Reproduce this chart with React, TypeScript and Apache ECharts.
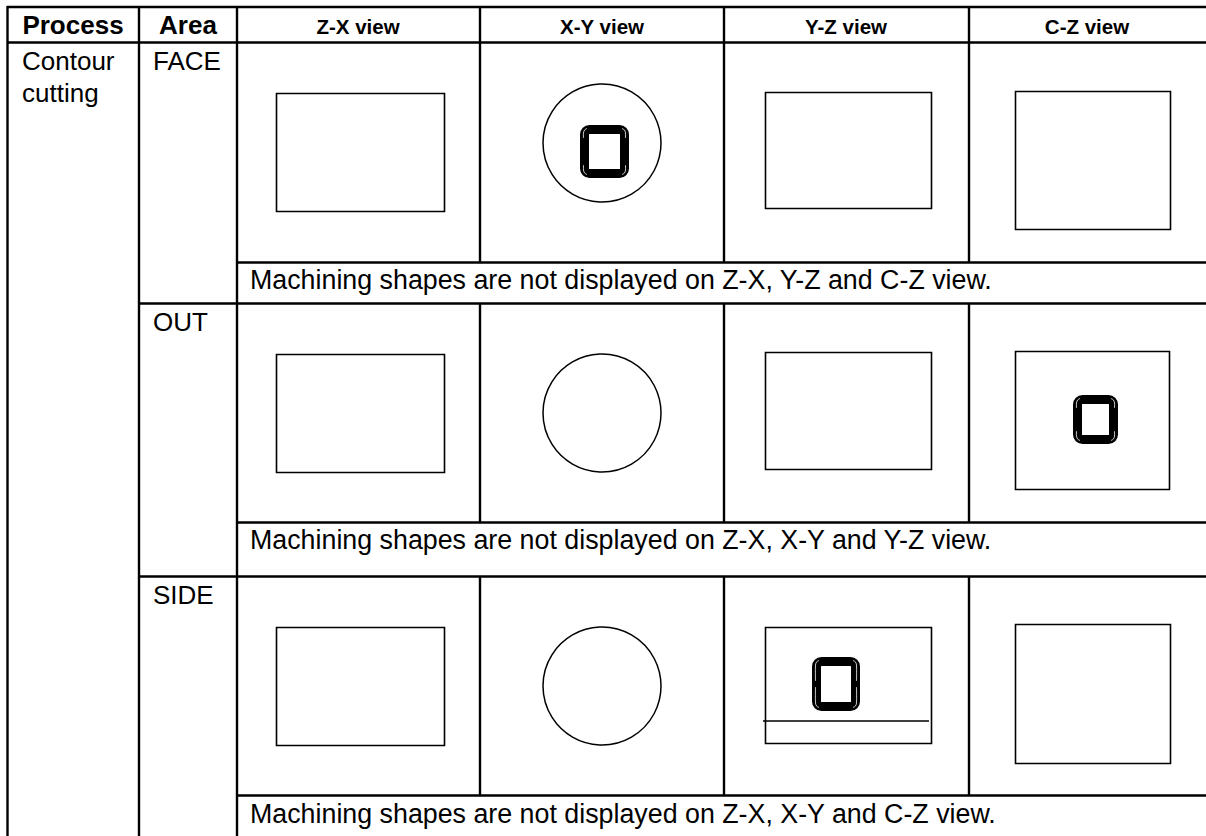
import React, { useEffect, useRef } from "react";
import * as echarts from "echarts";

const mainHeaders = ["Process", "Area"];
const mainHeaderCenters = [73, 188];
const viewHeaders = ["Z-X view", "X-Y view", "Y-Z view", "C-Z view"];
const viewHeaderCenters = [358, 602, 846, 1087];
const processLines = ["Contour", "cutting"];
const areas = ["FACE", "OUT", "SIDE"];
const areaY = [61, 322, 595];
const notes = [
  "Machining shapes are not displayed on Z-X, Y-Z and C-Z view.",
  "Machining shapes are not displayed on Z-X, X-Y and Y-Z view.",
  "Machining shapes are not displayed on Z-X, X-Y and C-Z view.",
];
const noteY = [280, 540, 814];

const verticalFull = [7.5, 139, 237];
const verticalCells = [480, 724, 969];
const verticalSpans = [[7, 262.5], [303.5, 522.5], [576.5, 795.5]];
const horizontalFromLeft = [7, 42.5];
const horizontalFromArea = [303.5, 576.5];
const horizontalNotes = [262.5, 522.5, 795.5];

// x, y, width, height
const frames = [
  [276.5, 93.5, 168, 118],
  [765.5, 92.5, 166, 116],
  [1015.5, 91.5, 155, 138],
  [276.5, 354.5, 168, 118],
  [765.5, 352.5, 166, 117],
  [1015.5, 351.5, 154, 138],
  [276.5, 627.5, 168, 118],
  [765.5, 627.5, 166, 116],
  [1015.5, 624.5, 155, 139],
];
const circleCentersY = [143, 413, 686];
// x, y, width, height, length of the light streak on each side
const shapes = [
  [580, 125, 49, 53, 5],
  [1073, 395, 45, 49, 5],
  [812, 657, 48, 54, 16],
];
const crossLine = [763, 721, 929, 721];

const FONT = '"Liberation Sans", Arial, sans-serif';
const line = (x1: number, y1: number, x2: number, y2: number, w = 2.4) => ({
  type: "line",
  shape: { x1, y1, x2, y2 },
  style: { stroke: "#000", lineWidth: w },
});
const text = (x: number, y: number, t: string, size: number, bold = false, align = "left") => ({
  type: "text",
  x,
  y,
  style: {
    text: t,
    fill: "#000",
    font: `${bold ? "bold " : ""}${size}px ${FONT}`,
    textAlign: align,
    textVerticalAlign: "middle",
  },
});
const streak = (pts: number[][]) => ({
  type: "polyline",
  shape: { points: pts, smooth: 0.3 },
  style: { fill: "none", stroke: "#fff", lineWidth: 0.8 },
});

export default function App() {
  const ref = useRef<HTMLDivElement>(null);
  useEffect(() => {
    document.body.style.margin = "0";
    const chart = echarts.init(ref.current!, null, { renderer: "svg" });
    const elements: any[] = [];
    elements.push({ type: "rect", shape: { x: 0, y: 0, width: 1206, height: 836 }, style: { fill: "#fff" } });

    horizontalFromLeft.forEach((y) => elements.push(line(7, y, 1206, y)));
    horizontalFromArea.forEach((y) => elements.push(line(139, y, 1206, y)));
    horizontalNotes.forEach((y) => elements.push(line(237, y, 1206, y)));
    verticalFull.forEach((x) => elements.push(line(x, 6, x, 836)));
    verticalCells.forEach((x) => {
      elements.push(line(x, 6, x, 42));
      verticalSpans.forEach(([a, b], i) => {
        const top = i === 0 ? 42.5 : a;
        elements.push(line(x, top, x, b));
      });
    });

    frames.forEach(([x, y, width, height]) =>
      elements.push({
        type: "rect",
        shape: { x, y, width, height },
        style: { fill: "none", stroke: "#000", lineWidth: 1.6 },
      })
    );
    circleCentersY.forEach((cy) =>
      elements.push({
        type: "circle",
        shape: { cx: 602, cy, r: 59 },
        style: { fill: "none", stroke: "#000", lineWidth: 1.5 },
      })
    );
    elements.push(line(crossLine[0], crossLine[1], crossLine[2], crossLine[3], 1.6));
    shapes.forEach(([x, y, w, h, len]) => {
      elements.push({
        type: "rect",
        shape: { x: x + 4.5, y: y + 4.5, width: w - 9, height: h - 9, r: 5 },
        style: { fill: "none", stroke: "#000", lineWidth: 9 },
      });
      [
        [x + 3.5, x + 7],
        [x + w - 3.5, x + w - 7],
      ].forEach(([side, inner]) => {
        const mid = (side + inner) / 2 + (side - inner) * 0.2;
        elements.push(
          streak([
            [inner, y + 3.5],
            [mid, y + 5],
            [side, y + 8],
            [side, y + 8 + len],
          ]),
          streak([
            [side, y + h - 8 - len],
            [side, y + h - 8],
            [mid, y + h - 5],
            [inner, y + h - 3.5],
          ])
        );
      });
    });

    mainHeaders.forEach((h, i) => elements.push(text(mainHeaderCenters[i], 24.5, h, 26, true, "center")));
    viewHeaders.forEach((h, i) => elements.push(text(viewHeaderCenters[i], 26, h, 20.5, true, "center")));
    processLines.forEach((t, i) => elements.push(text(22, 61 + i * 32, t, 26)));
    areas.forEach((a, i) => elements.push(text(153, areaY[i], a, 26)));
    notes.forEach((n, i) => elements.push(text(250, noteY[i], n, 26.8)));

    chart.setOption({ animation: false, graphic: { elements } });
    return () => chart.dispose();
  }, []);
  return <div ref={ref} style={{ width: 1206, height: 836 }} />;
}
